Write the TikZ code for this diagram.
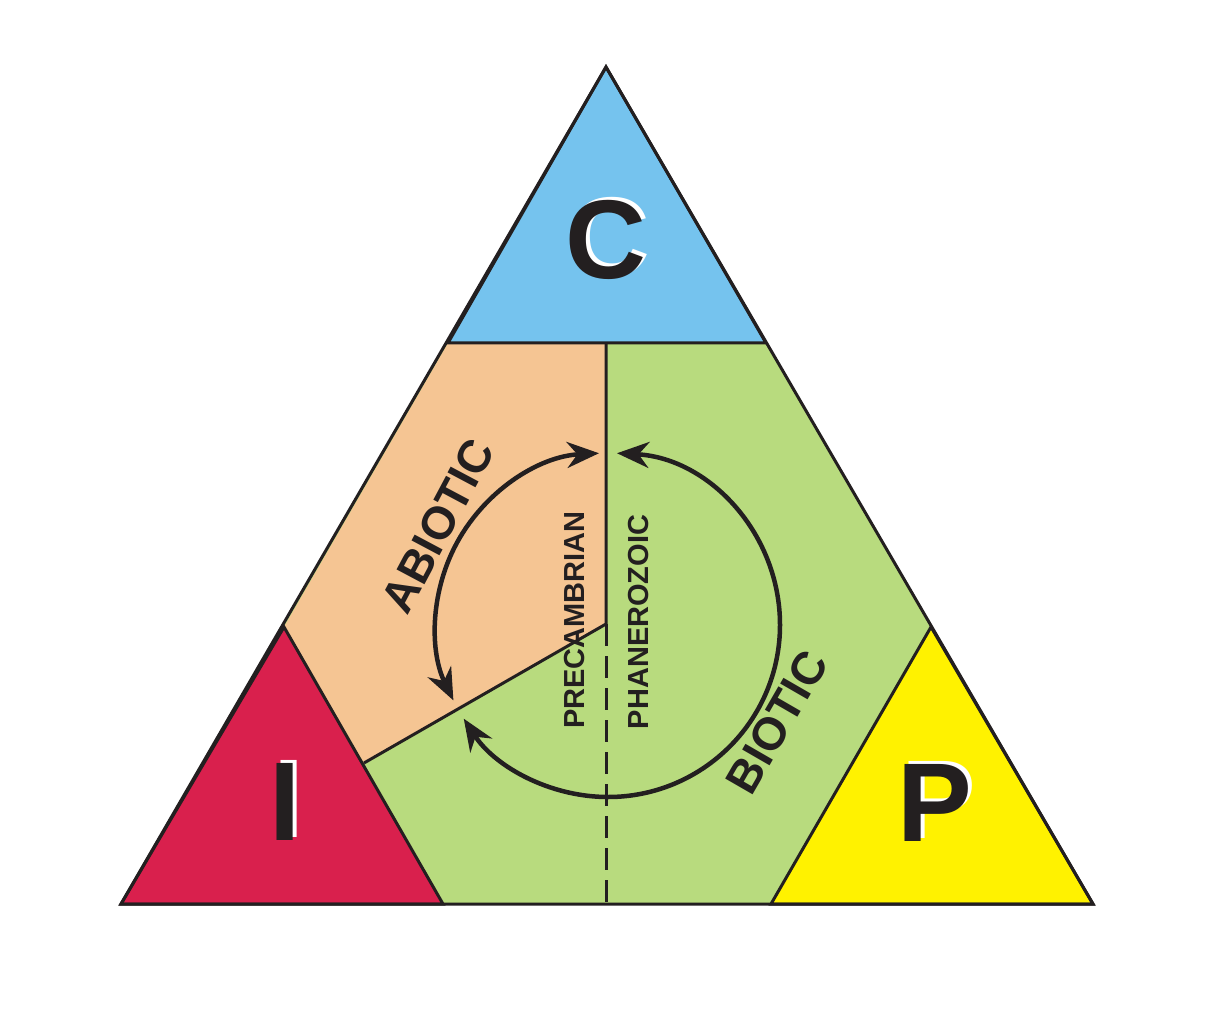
\documentclass[tikz,border=0pt]{standalone}
\usepackage{fontspec}
\setmainfont{Liberation Sans}
\usetikzlibrary{arrows.meta}
\definecolor{cblue}{HTML}{75C3EE}
\definecolor{corange}{HTML}{F5C593}
\definecolor{cgreen}{HTML}{B8DB7E}
\definecolor{cred}{HTML}{D9204D}
\definecolor{cyel}{HTML}{FFF200}
\definecolor{ink}{HTML}{231F20}
\tikzset{region/.style={draw=ink,line width=3pt},
 big/.style={font=\fontsize{112}{112}\selectfont\bfseries,text=ink,inner sep=0},
 shadow/.style={font=\fontsize{112}{112}\selectfont\bfseries,text=white,inner sep=0},
 lbl/.style={font=\fontsize{46}{46}\selectfont\bfseries,text=ink,inner sep=0},
 era/.style={font=\fontsize{29}{29}\selectfont\bfseries,text=ink,inner sep=0,rotate=90},
 cyc/.style={draw=ink,line width=4.5pt,{Stealth[length=32pt,width=26pt]}-{Stealth[length=32pt,width=26pt]}}}
\begin{document}
\begin{tikzpicture}[x=1pt,y=-1pt]
\useasboundingbox (0,0) rectangle (1208,1032);
\coordinate (A) at (606,67); \coordinate (L) at (121,904); \coordinate (R) at (1093,904);
\fill[cgreen] (L)--(A)--(R)--cycle;
\fill[corange] (448,343)--(606,343)--(606,624)--(364,763)--(284,627)--cycle;
\draw[region,fill=cblue] (A)--(766,343)--(448,343)--cycle;
\draw[region,fill=cred] (L)--(284,627)--(443,904)--cycle;
\draw[region,fill=cyel] (R)--(931,627)--(771,904)--cycle;
\draw[region,line join=miter] (L)--(A)--(R)--cycle;
\draw[line width=3pt,ink] (606,343)--(606,624)--(364,763);
\draw[line width=3pt,ink,dash pattern=on 22pt off 10pt] (606,624)--(606,904);
\coordinate (O) at (608,625);
\draw[cyc] ([shift={(-93:172)}]O) arc[start angle=-93,end angle=-206,radius=172];
\draw[cyc] ([shift={(-87:172)}]O) arc[start angle=-87,end angle=147,radius=172];
\node[shadow] at (610,237) {C}; \node[big] (c) at (606,240) {C};
\node[shadow] at (289,799) {I}; \node[big] (i) at (285,802) {I};
\node[shadow] at (939,800) {P}; \node[big] (p) at (935,803) {P};
\node[lbl,rotate=62] (ab) at (438,526) {ABIOTIC};
\node[lbl,rotate=60] (bi) at (777,722) {BIOTIC};
\node[era] (pre) at (575,620) {PRECAMBRIAN};
\node[era] (pha) at (639,622) {PHANEROZOIC};
\end{tikzpicture}
\end{document}
